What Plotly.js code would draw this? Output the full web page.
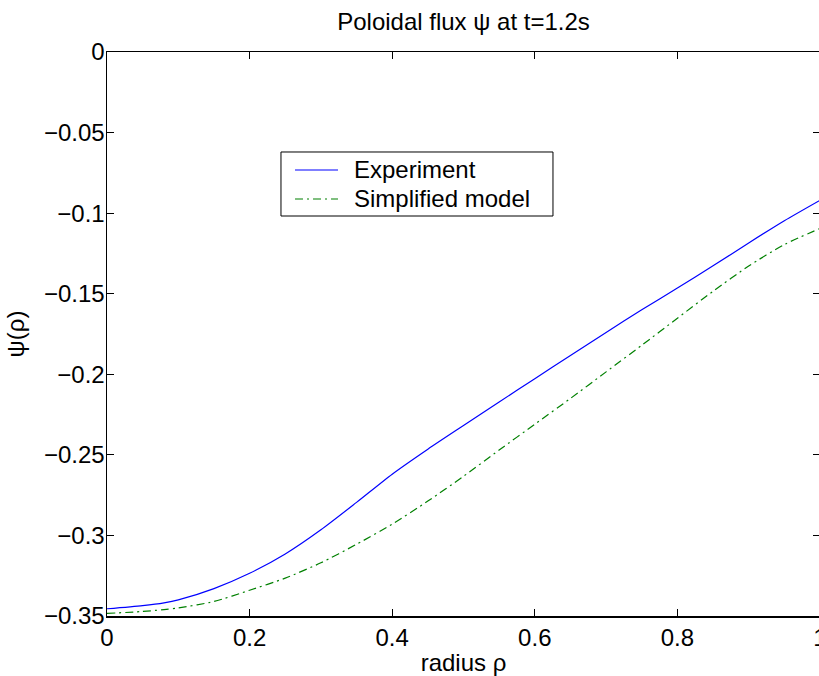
<!DOCTYPE html>
<html>
<head>
<meta charset="utf-8">
<script src="https://cdn.plot.ly/plotly-3.0.1.min.js"></script>
<style>
html, body { margin: 0; padding: 0; overflow: hidden; background: #fff; }
#chart { width: 820px; height: 676px; }
</style>
</head>
<body>
<div id="chart"></div>
<script>
const radius = [0, 0.05, 0.08, 0.1, 0.15, 0.2, 0.25, 0.3, 0.35, 0.4, 0.45, 0.5, 0.55, 0.6, 0.65, 0.7, 0.75, 0.8, 0.85, 0.9, 0.95, 1.0];
const experiment = [-0.3455, -0.3435, -0.3418, -0.3400, -0.3330, -0.3235, -0.3115, -0.2965, -0.2795, -0.2620, -0.2465, -0.2318, -0.2172, -0.2027, -0.1883, -0.1740, -0.1600, -0.1465, -0.1327, -0.1185, -0.1047, -0.0920];
const simplified = [-0.3484, -0.3472, -0.3460, -0.3450, -0.3410, -0.3340, -0.3265, -0.3170, -0.3055, -0.2930, -0.2787, -0.2633, -0.2470, -0.2310, -0.2150, -0.1985, -0.1820, -0.1652, -0.1485, -0.1328, -0.1195, -0.1095];
const seriesNames = ["Experiment", "Simplified model"];
const xTicks = [0, 0.2, 0.4, 0.6, 0.8, 1];
const yTicks = [-0.35, -0.3, -0.25, -0.2, -0.15, -0.1, -0.05, 0];
const titleText = "Poloidal flux ψ at t=1.2s";
const xLabel = "radius ρ";
const yLabel = "ψ(ρ)";

const FONT = "Liberation Sans, Arial, Helvetica, sans-serif";
const colors = ["#0000ff", "#008000"];
const dashes = ["solid", "8px,4px,2px,4px"];

const traces = [
  { x: radius, y: experiment, name: seriesNames[0], mode: "lines", type: "scatter", showlegend: false,
    line: { color: colors[0], width: 1.2, shape: "spline", smoothing: 0.7 } },
  { x: radius, y: simplified, name: seriesNames[1], mode: "lines", type: "scatter", showlegend: false,
    line: { color: colors[1], width: 1.2, dash: dashes[1], shape: "spline", smoothing: 0.7 } }
];

const axisCommon = {
  showgrid: false, zeroline: false, showline: true, linecolor: "#000", linewidth: 1.5,
  mirror: "ticks", ticks: "inside", ticklen: 7, tickwidth: 1, tickcolor: "#000",
  tickfont: { family: FONT, size: 24, color: "#000" }, ticklabeloverflow: "allow"
};

// manual legend (box, sample lines, labels) in paper coordinates
const legBox = { x0: 0.2440, x1: 0.6255, y0: 0.7092, y1: 0.8227 };
const legRows = [0.7908, 0.7394];
const legLine = [0.2637, 0.3240];
const legText = 0.3436;

const shapes = [
  { type: "rect", xref: "paper", yref: "paper", x0: legBox.x0, x1: legBox.x1, y0: legBox.y0, y1: legBox.y1,
    line: { color: "#000", width: 1 }, fillcolor: "#fff", layer: "above" }
];
const annotations = [];
seriesNames.forEach((nm, i) => {
  shapes.push({ type: "line", xref: "paper", yref: "paper", x0: legLine[0], x1: legLine[1], y0: legRows[i], y1: legRows[i],
    line: { color: colors[i], width: 1.2, dash: dashes[i] }, layer: "above" });
  annotations.push({ xref: "paper", yref: "paper", x: legText, y: legRows[i], xanchor: "left", yanchor: "middle",
    text: nm, showarrow: false, font: { family: FONT, size: 24, color: "#000" } });
});

const layout = {
  width: 820, height: 676,
  margin: { l: 107, r: 0, t: 52, b: 60 },
  paper_bgcolor: "#fff", plot_bgcolor: "#fff",
  showlegend: false,
  title: { text: titleText, font: { family: FONT, size: 24, color: "#000" },
           xref: "paper", x: 0.5, xanchor: "center", y: 0.968, yanchor: "middle" },
  xaxis: Object.assign({}, axisCommon, {
    range: [0, 1], tickvals: xTicks, ticktext: xTicks.map(String),
    title: { text: xLabel, font: { family: FONT, size: 24, color: "#000" }, standoff: 6 }
  }),
  yaxis: Object.assign({}, axisCommon, {
    range: [-0.35, 0], tickvals: yTicks, ticktext: yTicks.map(v => String(v).replace("-", "\u2212")),
    ticklabelstandoff: -4,
    title: { text: yLabel, font: { family: FONT, size: 24, color: "#000" }, standoff: 12 }
  }),
  shapes: shapes,
  annotations: annotations
};

Plotly.newPlot("chart", traces, layout, { displayModeBar: false, staticPlot: true });
</script>
</body>
</html>
